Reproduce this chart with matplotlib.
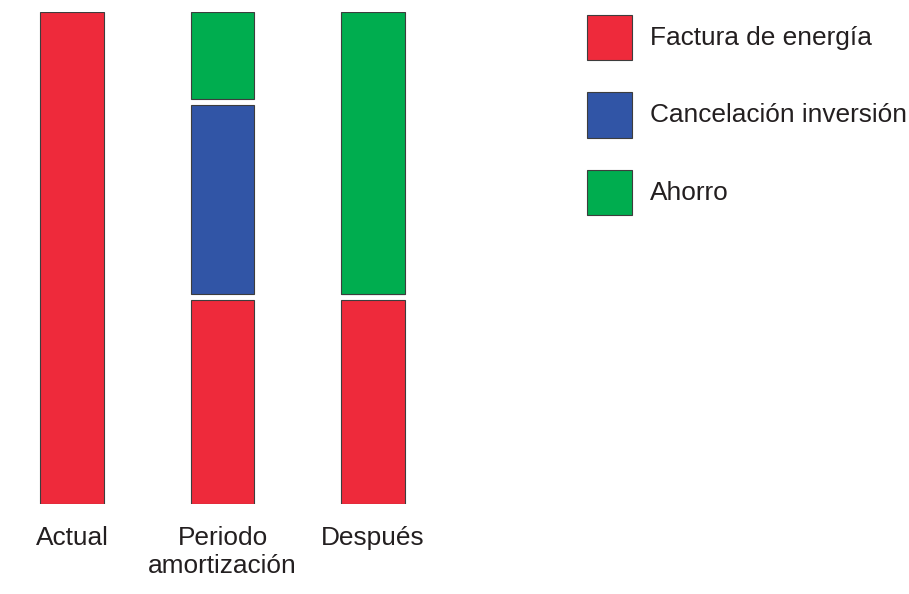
import matplotlib.pyplot as plt
from matplotlib.patches import Rectangle
import numpy as np

plt.rcParams["font.family"] = ["Liberation Sans", "DejaVu Sans"]

categories  = ["Actual", "Periodo\namortización", "Después"]
factura     = [100.0, 42.1, 42.1]
cancelacion = [0.0, 39.6, 0.0]
ahorro      = [0.0, 18.3, 57.9]

series = [
    ("Factura de energía", factura, "#EE2A3B"),
    ("Cancelación inversión", cancelacion, "#3155A6"),
    ("Ahorro", ahorro, "#00AD4F"),
]

GAP   = 1.2
EDGE  = "#3d3d3d"
FS    = 18.9

fig = plt.figure(figsize=(9.09, 5.94), dpi=100)
fig.patch.set_facecolor("white")
ax = fig.add_axes([0.0, 90 / 594, 450 / 909, 492 / 594])

x = np.arange(len(categories))
totals = np.sum([s[1] for s in series], axis=0)
bottom = np.zeros(len(categories))
for name, vals, col in series:
    vals = np.array(vals)
    lo = bottom + np.where(bottom > 0, GAP / 2, 0)
    top = bottom + vals
    hi = top - np.where(top < totals - 1e-9, GAP / 2, 0)
    h = np.where(vals > 0, hi - lo, 0)
    ax.bar(x, h, bottom=lo, width=0.425, color=col,
           edgecolor=EDGE, linewidth=0.8)
    bottom = top

ax.set_xlim(-72 / 150.5, 378 / 150.5)
ax.set_ylim(0, 100)
for sp in ax.spines.values():
    sp.set_visible(False)
ax.set_yticks([])
ax.set_xticks(x)
ax.set_xticklabels(categories, fontsize=FS, color="#231f20", linespacing=1.25)
ax.tick_params(axis="x", length=0, pad=15.5)

# legend drawn by hand
for i, (name, vals, col) in enumerate(series):
    top_px = 15 + i * 77.5
    fig.add_artist(Rectangle((587 / 909, 1 - (top_px + 45) / 594), 45 / 909, 45 / 594,
                             transform=fig.transFigure, facecolor=col,
                             edgecolor=EDGE, linewidth=0.8))
    fig.text(650 / 909, 1 - (top_px + 22.5) / 594, name, fontsize=FS,
             color="#231f20", va="center", ha="left")

fig.savefig("out.png", dpi=100)
